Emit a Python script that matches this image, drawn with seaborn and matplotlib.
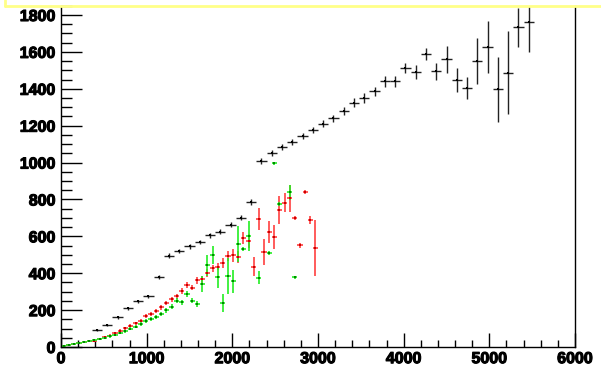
import numpy as np
import pandas as pd
import matplotlib
matplotlib.use("Agg")
import matplotlib.pyplot as plt
from matplotlib.lines import Line2D
from matplotlib.ticker import MultipleLocator
import matplotlib.patheffects as pe
import seaborn as sns

# ---------------- data ----------------
black_x = [420, 540, 660, 780, 900, 1020, 1140, 1260, 1380, 1500, 1620, 1740, 1860,
           1980, 2100, 2220, 2340, 2460, 2580, 2700, 2820, 2940, 3060, 3180, 3300,
           3420, 3540, 3660, 3780, 3900, 4020, 4140, 4260, 4380, 4500, 4620, 4740,
           4860, 4980, 5100, 5220, 5340, 5460]
black_y = [94, 119, 161, 211, 248, 275, 381, 496, 518, 546, 569, 606, 625,
           663, 701, 785, 1010, 1050, 1086, 1113, 1144, 1176, 1211, 1240, 1278,
           1325, 1350, 1386, 1441, 1441, 1513, 1491, 1589, 1495, 1560, 1448, 1406,
           1552, 1625, 1397, 1487, 1733, 1764]
black_err = [5, 6, 7, 8, 8, 9, 10, 11, 11, 12, 12, 13, 13,
             14, 14, 15, 16, 16, 17, 17, 18, 18, 19, 20, 22,
             24, 25, 26, 30, 30, 27, 36, 32, 45, 72, 63, 60,
             126, 140, 176, 224, 105, 166]

red_x = [30, 90, 150, 210, 270, 330, 390, 450, 510, 570, 630, 690, 750, 810, 870,
         930, 990, 1050, 1110, 1170, 1230, 1290, 1350, 1410, 1470, 1530, 1590,
         1650, 1710, 1770, 1830, 1890, 1950, 2010, 2070, 2130, 2190, 2250, 2310,
         2370, 2430, 2490, 2550, 2610, 2670, 2730, 2790, 2850, 2910, 2970]
red_y = [4, 9, 14, 19, 25, 30, 35, 43, 52, 62, 75, 88, 101, 114, 128,
         143, 168, 178, 195, 215, 237, 259, 276, 304, 336, 322, 362,
         367, 403, 427, 436, 457, 493, 497, 490, 591, 576, 436, 692,
         515, 624, 598, 743, 782, 806, 698, 551, 839, 689, 538]
red_err = [2, 3, 3, 4, 4, 4, 5, 5, 6, 6, 7, 7, 8, 8, 9,
           9, 10, 10, 11, 12, 12, 13, 14, 15, 16, 14, 18,
           18, 22, 20, 20, 27, 27, 36, 33, 34, 38, 52, 60,
           70, 60, 66, 74, 52, 72, 10, 12, 10, 20, 152]

green_x = [30, 90, 150, 210, 270, 330, 390, 450, 510, 570, 630, 690, 750, 810, 870,
           930, 990, 1050, 1110, 1170, 1230, 1290, 1350, 1410, 1470, 1530, 1590,
           1650, 1710, 1770, 1830, 1890, 1950, 2010, 2070, 2130, 2190, 2310,
           2430, 2490, 2550, 2670, 2730]
green_y = [6, 11, 16, 21, 27, 32, 37, 43, 50, 57, 66, 75, 86, 98, 110,
           124, 140, 152, 165, 180, 198, 218, 250, 242, 286, 251, 231,
           340, 443, 499, 381, 239, 385, 356, 557, 530, 602, 376,
           511, 996, 775, 839, 378]
green_err = [2, 3, 3, 4, 4, 4, 5, 5, 6, 6, 7, 7, 8, 8, 9,
             9, 10, 10, 11, 12, 12, 13, 14, 15, 16, 15, 16,
             43, 57, 49, 59, 51, 95, 61, 97, 12, 79, 36,
             10, 8, 10, 40, 8]

x_ticks = [0, 1000, 2000, 3000, 4000, 5000, 6000]
y_ticks = [0, 200, 400, 600, 800, 1000, 1200, 1400, 1600, 1800]

# ---------------- figure ----------------
sns.set_theme(style="white")
plt.rcParams["font.family"] = ["Liberation Sans", "DejaVu Sans"]

fig = plt.figure(figsize=(6.01, 3.71), dpi=100)
ax = fig.add_axes([61 / 601, 24 / 371, (575 - 61) / 601, (371 - 24 - 5.5) / 371])

def draw(xs, ys, es, half, bar_col, mark_col, lw):
    df = pd.DataFrame({"x": xs, "y": ys, "e": es})
    ax.errorbar(df["x"], df["y"], yerr=df["e"], xerr=half, fmt="none",
                ecolor=bar_col, elinewidth=lw, capsize=0, zorder=2)
    sns.scatterplot(data=df, x="x", y="y", ax=ax, color=mark_col, marker="s",
                    s=3, linewidth=0, zorder=3, legend=False)

draw(black_x, black_y, black_err, 60, "#222222", "black", 1.0)
draw(red_x, red_y, red_err, 30, "#ff4040", "#cc0000", 1.2)
draw(green_x, green_y, green_err, 30, "#22ee22", "#008800", 1.2)

ax.set_xlim(0, 6000)
ax.set_ylim(0, 1851.5)
ax.set_xlabel("")
ax.set_ylabel("")
ax.set_xticks(x_ticks)
ax.set_yticks(y_ticks)
ax.xaxis.set_minor_locator(MultipleLocator(200))
ax.yaxis.set_minor_locator(MultipleLocator(50))

for s in ["left", "bottom", "right"]:
    ax.spines[s].set_color("black")
    ax.spines[s].set_linewidth(1.0)
ax.spines["top"].set_visible(False)

ax.tick_params(axis="x", which="major", direction="in", length=10, width=1,
               color="black", bottom=True, top=False, pad=3)
ax.tick_params(axis="x", which="minor", direction="in", length=5, width=1,
               color="black", bottom=True, top=False)
ax.tick_params(axis="y", which="major", direction="in", length=15, width=1,
               color="black", left=True, right=False, pad=4)
ax.tick_params(axis="y", which="minor", direction="in", length=7.7, width=1,
               color="black", left=True, right=False)
for lab in ax.get_xticklabels() + ax.get_yticklabels():
    lab.set_fontweight("bold")
    lab.set_fontsize(11.5)
    lab.set_color("black")
    lab.set_path_effects([pe.withStroke(linewidth=0.8, foreground="black")])

# yellow frame edge at top
fig.add_artist(Line2D([5 / 601, 1.0], [1 - 5.5 / 371, 1 - 5.5 / 371],
                      color="#ffff88", lw=2))
fig.add_artist(Line2D([5 / 601, 5 / 601], [1 - 5.5 / 371, 1.0],
                      color="#ffff88", lw=2))

fig.savefig("out.png", dpi=100)
